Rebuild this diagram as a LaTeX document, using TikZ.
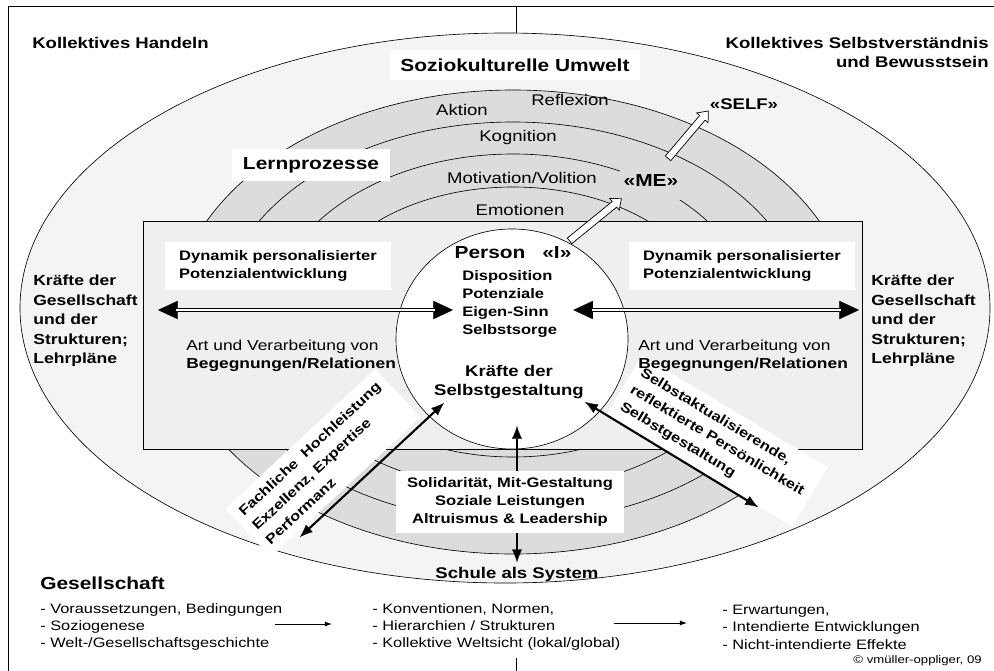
\documentclass[tikz,border=0pt]{standalone}
\usepackage{fontspec}
\setmainfont[FakeStretch=1.2]{Liberation Sans}
\usetikzlibrary{arrows.meta,calc,shapes.geometric,shapes.arrows}

\definecolor{ringgray}{HTML}{DCDCDC}
\definecolor{fieldgray}{HTML}{F4F4F4}
\definecolor{rectgray}{HTML}{EFEFEF}

\tikzset{
  normlabel/.style={inner sep=0pt, font=\fontsize{10.3}{12.8}\selectfont},
  ringlabel/.style={inner sep=0pt, font=\fontsize{11}{13}\selectfont},
  boldlabel/.style={inner sep=0pt, font=\bfseries\fontsize{9.8}{12.6}\selectfont},
  sidelabel/.style={inner sep=0pt, font=\bfseries\fontsize{10.4}{13.9}\selectfont},
  headlabel/.style={inner sep=0pt, font=\bfseries\fontsize{11}{13.5}\selectfont},
  titlelabel/.style={inner sep=0pt, font=\bfseries\fontsize{12.4}{15}\selectfont},
  diaglabel/.style={font=\bfseries\fontsize{9.7}{14}\selectfont, fill=white, inner sep=6pt, align=left},
  dblarrow/.style={line width=2.6pt,
    {Triangle[length=14pt,width=13pt,line width=0.2pt]}-{Triangle[length=14pt,width=13pt,line width=0.2pt]},
    postaction={draw, white, line width=0.9pt, arrows=-, shorten <=13pt, shorten >=13pt}},
  blackarrow/.style={line width=1.5pt,
    {Latex[length=9pt,width=7pt,line width=0.2pt]}-{Latex[length=9pt,width=7pt,line width=0.2pt]}},
  smallarrow/.style={line width=0.6pt, -{Latex[length=5pt,width=3.5pt]}},
  hollowarrow/.style={single arrow, draw, fill=white, line width=0.5pt, inner sep=2.3pt,
    single arrow head extend=2.8pt, single arrow tip angle=80, minimum width=0pt}
}

\begin{document}
\begin{tikzpicture}[x=0.025cm, y=-0.025cm, line width=0.45pt]
\useasboundingbox (0,0) rectangle (994,671);

% frame, axis and sociocultural field
\draw[line width=0.6pt] (8,690) -- (8,6) -- (1010,6);
\draw[fill=fieldgray] (505,308) ellipse [x radius=485, y radius=275];
\draw (516,6) -- (516,33);
\draw (516,658) -- (516,690);

% learning rings
\draw[fill=ringgray] (513,322) ellipse [x radius=340, y radius=232];
\foreach \rx/\ry in {294/200,243/168,203/135}
  \draw (513,322) ellipse [x radius=\rx, y radius=\ry];

% field of relations
\draw[fill=rectgray] (143,221) rectangle (862,449);

% self-shaping directions (boxes below the texts)
\node[diaglabel, rotate=43] (fach) at (323,463) {Fachliche\ \ Hochleistung\\Exzellenz, Expertise\\Performanz};
\node[diaglabel, rotate=-31] (selbst) at (717,441) {Selbstaktualisierende,\\reflektierte Persönlichkeit\\Selbstgestaltung};

% person
\node[ellipse, draw, fill=white, minimum width=5.8cm, minimum height=5.5cm] (pers) at (512,339) {};
\node[titlelabel] (perstitle) at (513,253) {Person\hspace{12pt}«I»};
\node[boldlabel, anchor=west, align=left] (disp) at (462,304) {Disposition\\Potenziale\\Eigen-Sinn\\Selbstsorge};
\node[headlabel, align=center] (kds) at (509,382) {Kräfte der\\Selbstgestaltung};

% ring labels
\node[ringlabel] (aktion) at (462,110) {Aktion};
\node[ringlabel] (reflex) at (570,100) {Reflexion};
\node[ringlabel] (kogn) at (518,137) {Kognition};
\node[ringlabel] (motiv) at (522,178) {Motivation/Volition};
\node[ringlabel] (emot) at (520,210) {Emotionen};
\node[titlelabel, fill=white, inner xsep=7.8pt, inner ysep=6pt] (lern) at (311,165) {Lernprozesse};

% I -> ME -> SELF
\node[titlelabel, fill=ringgray, minimum width=44pt, minimum height=28pt] (me) at (651,180) {«ME»};
\node[headlabel, inner sep=2pt] (self) at (744,104) {«SELF»};
\path let \p1=($(me.south west)-(pers.60)$), \n1={veclen(\x1,\y1)} in
  (pers.60) -- (me.south west) node[midway, sloped, hollowarrow, minimum height=\n1] {};
\coordinate (mestart) at ($(me.north)!0.5!(me.north east)$);
\path let \p1=($(self.south west)-(mestart)$), \n1={veclen(\x1,\y1)} in
  (mestart) -- (self.south west) node[midway, sloped, hollowarrow, minimum height=\n1] {};

% top labels
\node[headlabel, anchor=west] (handeln) at (32,43) {Kollektives Handeln};
\node[headlabel, anchor=east, align=right] (bewusst) at (989,52) {Kollektives Selbstverständnis\\und Bewusstsein};
\node[titlelabel, fill=white, inner xsep=7.8pt, inner ysep=6pt] (umwelt) at (515,65) {Soziokulturelle Umwelt};

% forces of society
\node[sidelabel, anchor=west, align=left] (kgl) at (33,321) {Kräfte der\\Gesellschaft\\und der\\Strukturen;\\Lehrpläne};
\node[sidelabel, anchor=west, align=left] (kgr) at (871,321) {Kräfte der\\Gesellschaft\\und der\\Strukturen;\\Lehrpläne};

% dynamics
\node[boldlabel, fill=white, align=left, inner xsep=10pt, inner ysep=6pt] (dynl) at (278,266) {Dynamik personalisierter\\Potenzialentwicklung};
\node[boldlabel, fill=white, align=left, inner xsep=10pt, inner ysep=6pt] (dynr) at (742,266) {Dynamik personalisierter\\Potenzialentwicklung};
\node[normlabel, anchor=west, align=left] (begl) at (186,356) {Art und Verarbeitung von\\\textbf{Begegnungen/Relationen}};
\node[normlabel, anchor=west, align=left] (begr) at (638,356) {Art und Verarbeitung von\\\textbf{Begegnungen/Relationen}};

\coordinate (lfree) at (158,310);
\coordinate (rfree) at (859,310);
\draw[dblarrow] (lfree) -- ($(lfree -| disp.west)+(-9,0)$);
\draw[dblarrow] ($(rfree -| disp.east)+(16,0)$) -- (rfree);

% school
\node[headlabel, inner sep=3pt] (schule) at (517,574) {Schule als System};

\coordinate (fachend) at (300,537);
\coordinate (selbstend) at (758,507);
\draw[blackarrow] (fachend) -- ($(kds.south west)+(10,4)$);
\draw[blackarrow] ($(kds.south east)+(1,3)$) -- (selbstend);
\draw[blackarrow] ($(kds.south)+(8,27)$) -- (schule.north);

\node[boldlabel, fill=white, align=center, inner xsep=8pt, inner ysep=5pt] (solid) at (510,502) {Solidarität, Mit-Gestaltung\\Soziale Leistungen\\Altruismus \& Leadership};

% society
\node[titlelabel, anchor=west] (gesell) at (40,583) {Gesellschaft};
\node[normlabel, anchor=west, align=left, font=\fontsize{9.7}{12.4}\selectfont] (gl) at (40,627) {- Voraussetzungen, Bedingungen\\- Soziogenese\\- Welt-/Gesellschaftsgeschichte};
\node[normlabel, anchor=west, align=left, font=\fontsize{9.7}{12.4}\selectfont] (gm) at (372,627) {- Konventionen, Normen,\\- Hierarchien / Strukturen\\- Kollektive Weltsicht (lokal/global)};
\node[normlabel, anchor=west, align=left, font=\fontsize{9.7}{12.4}\selectfont] (gr) at (722,627) {- Erwartungen,\\- Intendierte Entwicklungen\\- Nicht-intendierte Effekte};
\draw[smallarrow] ($(gl.east)+(-8,-3)$) -- ($(gm.west)+(-40,-3)$);
\draw[smallarrow] ($(gm.east)+(-7,-4)$) -- ($(gr.west)+(-35,-4)$);

\node[anchor=east, inner sep=0pt, font=\fontsize{7.8}{9}\selectfont] (copy) at (982,661) {© vmüller-oppliger, 09};
\end{tikzpicture}
\end{document}
